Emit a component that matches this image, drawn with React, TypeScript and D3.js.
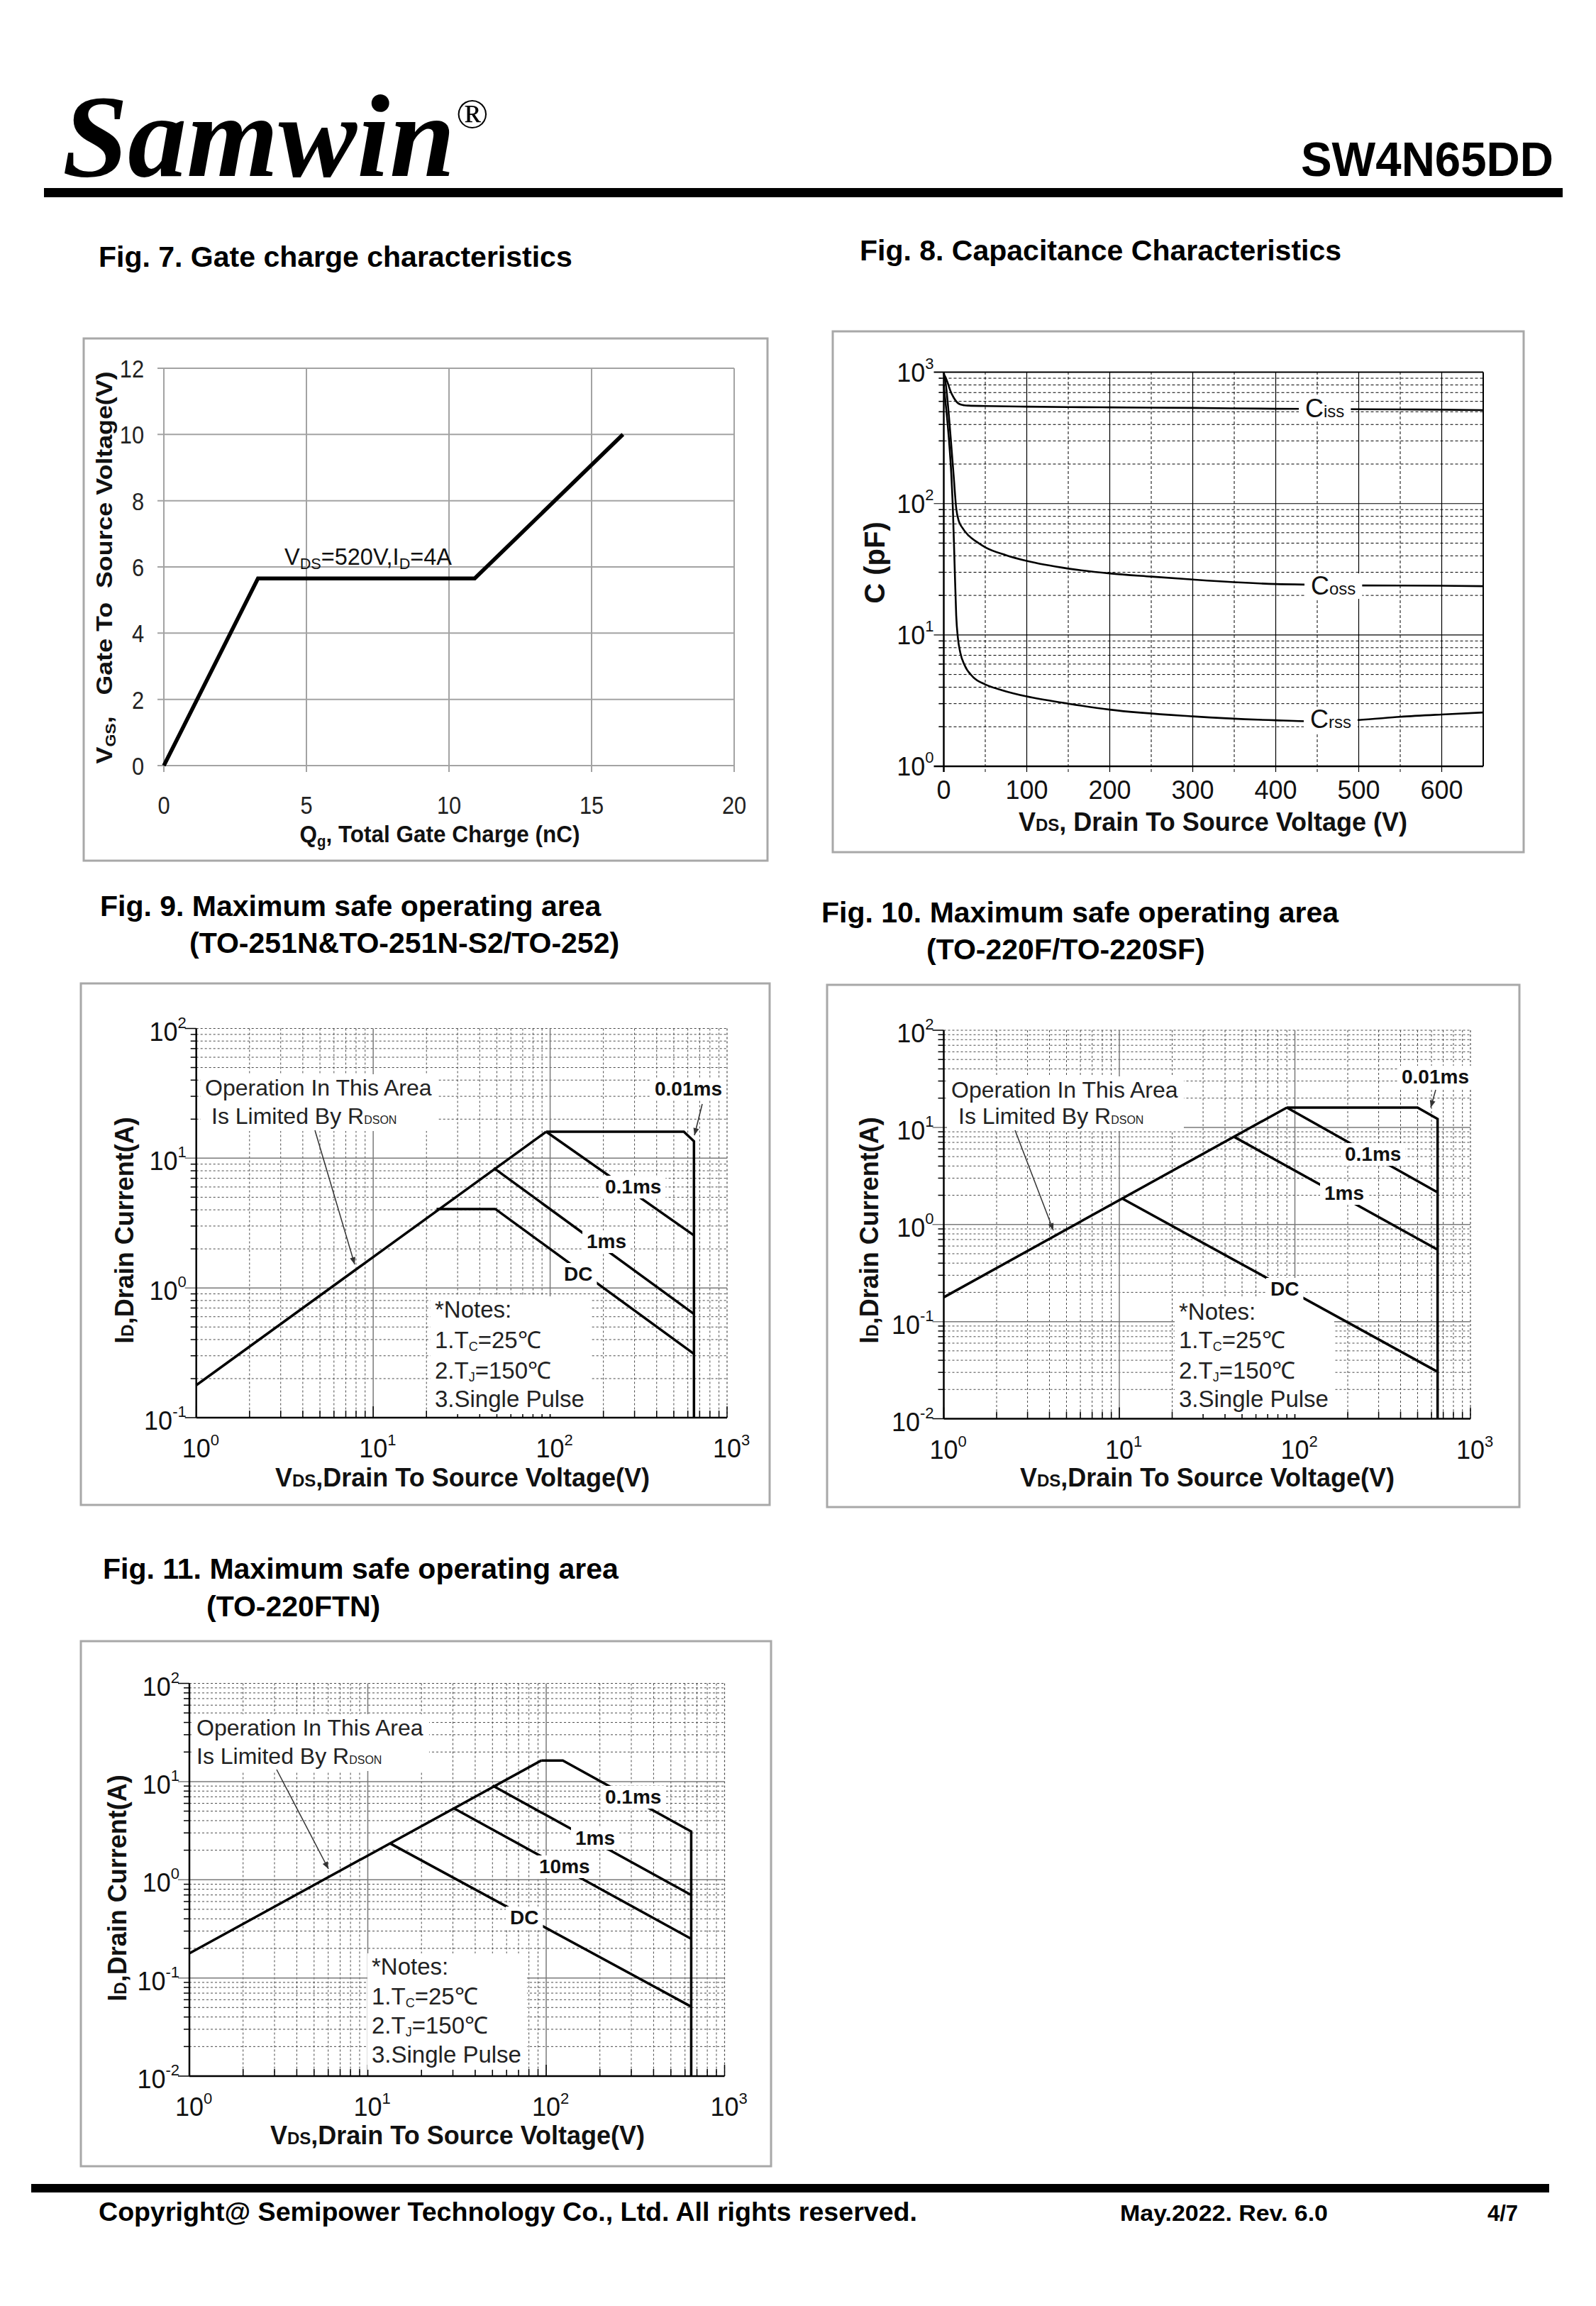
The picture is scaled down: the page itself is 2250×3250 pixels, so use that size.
import React from 'react';
import * as d3 from 'd3';

const FONT = "'Liberation Sans', Arial, Helvetica, sans-serif";
const SERIF = "'Liberation Serif', 'Times New Roman', serif";

// ================= DATA =================
// Fig. 7 gate charge
const fig7Qg = [0, 3.3, 10.9, 16.1];
const fig7Vgs = [0, 5.65, 5.65, 10];
const fig7XTicks = [0, 5, 10, 15, 20];
const fig7YTicks = [0, 2, 4, 6, 8, 10, 12];

// Fig. 8 capacitance
const fig8XTicks = [0, 100, 200, 300, 400, 500, 600];
const fig8YDecades = [1, 10, 100, 1000];
const cissV = [0, 2, 5, 8, 12, 16, 20, 25, 30, 50, 100, 150, 200, 300, 400, 450, 500, 550, 600, 650];
const cissC = [960, 920, 820, 720, 640, 590, 568, 560, 557, 553, 547, 543, 540, 535, 527, 525, 523, 521, 519, 515];
const cossV = [0, 3, 6, 9, 12, 15, 18, 22, 30, 40, 50, 75, 100, 150, 200, 250, 300, 400, 450, 500, 600, 650];
const cossC = [1000, 760, 480, 280, 160, 92, 74, 66, 57, 51, 46.5, 40.5, 36.6, 32, 29.4, 27.8, 26.4, 24.4, 24.1, 23.8, 23.7, 23.5];
const crssV = [0, 3, 6, 9, 11, 13, 15, 17, 20, 25, 35, 50, 70, 100, 150, 200, 300, 400, 450, 500, 550, 600, 650];
const crssC = [800, 520, 320, 170, 90, 35, 14, 9.5, 7.3, 5.9, 4.8, 4.2, 3.8, 3.4, 3.0, 2.7, 2.4, 2.24, 2.2, 2.25, 2.38, 2.48, 2.57];

// SOA common
const soaXDecades = [1, 10, 100, 1000];
const fig9YDecades = [0.1, 1, 10, 100];
const fig10YDecades = [0.01, 0.1, 1, 10, 100];
const fig11YDecades = [0.01, 0.1, 1, 10, 100];

// Fig. 9 (TO-251N / TO-252)
const fig9RdsonV = [1, 95];
const fig9RdsonI = [0.178, 16];
const fig9LimitV = [95, 570, 650, 650];
const fig9LimitI = [16, 16, 13.5, 0.1];
const fig9P01msV = [95, 650];
const fig9P01msI = [16, 2.54];
const fig9P1msV = [48, 650];
const fig9P1msI = [8.4, 0.63];
const fig9DcV = [22.8, 49, 650];
const fig9DcI = [4.06, 4.06, 0.31];

// Fig. 10 (TO-220F / TO-220SF)
const fig10RdsonV = [1, 90];
const fig10RdsonI = [0.178, 16];
const fig10LimitV = [90, 500, 650, 650];
const fig10LimitI = [16, 16, 12.2, 0.01];
const fig10P01msV = [90, 650];
const fig10P01msI = [16, 2.14];
const fig10P1msV = [45, 650];
const fig10P1msI = [8.0, 0.55];
const fig10DcV = [10.4, 650];
const fig10DcI = [1.85, 0.0304];

// Fig. 11 (TO-220FTN)
const fig11RdsonV = [1, 94];
const fig11RdsonI = [0.178, 16.4];
const fig11LimitV = [94, 124, 650, 650];
const fig11LimitI = [16.4, 16.4, 3.1, 0.01];
const fig11P1msV = [50, 650];
const fig11P1msI = [9.1, 0.70];
const fig11P10msV = [30.6, 650];
const fig11P10msI = [5.3, 0.25];
const fig11DcV = [13.3, 650];
const fig11DcI = [2.35, 0.051];

const notesLines = ['*Notes:', '1.T|C|=25℃', '2.T|J|=150℃', '3.Single Pulse'];

// ================= HELPERS =================
let _ctx: CanvasRenderingContext2D | null = null;
function tw(text: string, size: number, weight: string = 'normal') {
  if (!_ctx && typeof document !== 'undefined') {
    _ctx = document.createElement('canvas').getContext('2d');
  }
  if (!_ctx) return text.length * size * 0.55;
  _ctx.font = `${weight} ${size}px 'Liberation Sans', Arial, sans-serif`;
  return _ctx.measureText(text).width;
}

function zip(a: number[], b: number[]): [number, number][] {
  return a.map((v, i) => [v, b[i]] as [number, number]);
}

function expOf(d: number) {
  return String(Math.round(Math.log10(d)));
}

// ================= HEADER / FOOTER =================
function Header() {
  return (
    <g>
      <text x={88} y={248} fontFamily={SERIF} fontWeight="bold" fontStyle="italic" fontSize={166} fill="#000">Samwin</text>
      <text x={643} y={180} fontFamily={SERIF} fontSize={60} fill="#000">®</text>
      <text x={1834} y={248} fontFamily={FONT} fontWeight="bold" fontSize={68} textLength={356} lengthAdjust="spacingAndGlyphs" fill="#000">SW4N65DD</text>
      <rect x={62} y={265} width={2141} height={13} fill="#000" />
    </g>
  );
}

function Footer() {
  return (
    <g fontFamily={FONT} fontWeight="bold" fill="#000">
      <rect x={44} y={3078} width={2140} height={12} fill="#000" />
      <text x={139} y={3130} fontSize={37} textLength={1154} lengthAdjust="spacingAndGlyphs">Copyright@ Semipower Technology Co., Ltd. All rights reserved.</text>
      <text x={1579} y={3130} fontSize={31} textLength={293} lengthAdjust="spacingAndGlyphs">May.2022. Rev. 6.0</text>
      <text x={2097} y={3130} fontSize={31}>4/7</text>
    </g>
  );
}

// ================= FIG 7 =================
function Fig7() {
  const x = d3.scaleLinear().domain([0, 20]).range([231, 1035]);
  const y = d3.scaleLinear().domain([0, 12]).range([1079, 519]);
  const path = d3.line<[number, number]>().x(d => x(d[0])).y(d => y(d[1]))(zip(fig7Qg, fig7Vgs)) || '';
  const grid = '#a3a3a3';
  return (
    <g>
      <text x={139} y={376} fontFamily={FONT} fontWeight="bold" fontSize={41}>Fig. 7. Gate charge characteristics</text>
      <rect x={118} y={477} width={964} height={736} fill="#fff" stroke="#a8a8a8" strokeWidth={3} />
      {fig7YTicks.map(t => (
        <line key={'h' + t} x1={x(0) - 9} x2={x(20)} y1={y(t)} y2={y(t)} stroke={grid} strokeWidth={2} />
      ))}
      {fig7XTicks.map(t => (
        <line key={'v' + t} x1={x(t)} x2={x(t)} y1={y(0) + 9} y2={y(12)} stroke={grid} strokeWidth={2} />
      ))}
      {fig7YTicks.map(t => (
        <text key={'yl' + t} transform={`translate(${x(0) - 28},${y(t) + 13}) scale(0.88,1)`} textAnchor="end" fontFamily={FONT} fontSize={35} fill="#222">{t}</text>
      ))}
      {fig7XTicks.map(t => (
        <text key={'xl' + t} transform={`translate(${x(t)},${1147}) scale(0.88,1)`} textAnchor="middle" fontFamily={FONT} fontSize={35} fill="#222">{t}</text>
      ))}
      <path d={path} fill="none" stroke="#000" strokeWidth={5.5} strokeLinejoin="miter" />
      <text x={401} y={796} fontFamily={FONT} fontSize={33} textLength={236} lengthAdjust="spacingAndGlyphs" fill="#111">
        V<tspan fontSize={22} dy={6}>DS</tspan><tspan dy={-6}>=520V,I</tspan><tspan fontSize={22} dy={6}>D</tspan><tspan dy={-6}>=4A</tspan>
      </text>
      <text x={620} y={1187} textAnchor="middle" fontFamily={FONT} fontWeight="bold" fontSize={34} textLength={395} lengthAdjust="spacingAndGlyphs" fill="#111">
        Q<tspan fontSize={22} dy={6}>g</tspan><tspan dy={-6}>, Total Gate Charge (nC)</tspan>
      </text>
      <text transform="translate(158,800) rotate(-90)" textAnchor="middle" fontFamily={FONT} fontWeight="bold" fontSize={31} textLength={553} lengthAdjust="spacingAndGlyphs" fill="#111" style={{ whiteSpace: 'pre' }}>
        V<tspan fontSize={20} dy={5}>GS</tspan><tspan dy={-5}>,   Gate To  Source Voltage(V)</tspan>
      </text>
    </g>
  );
}

// ================= FIG 8 =================
function Fig8() {
  const x = d3.scaleLinear().domain([0, 650]).range([1330.5, 2091]);
  const y = d3.scaleLog().domain([1, 1000]).range([1080, 524.6]);
  const line = d3.line<[number, number]>().x(d => x(d[0])).y(d => y(d[1])).curve(d3.curveMonotoneX);
  const vLines = d3.range(50, 650, 50);
  const yMinor: number[] = [];
  fig8YDecades.slice(0, -1).forEach(d => { for (let m = 2; m <= 9; m++) yMinor.push(d * m); });
  const labels = [
    { main: 'C', sub: 'iss', x: 1840, y: 588 },
    { main: 'C', sub: 'oss', x: 1848, y: 838 },
    { main: 'C', sub: 'rss', x: 1847, y: 1026 },
  ];
  return (
    <g>
      <text x={1212} y={367} fontFamily={FONT} fontWeight="bold" fontSize={41}>Fig. 8. Capacitance Characteristics</text>
      <rect x={1174} y={467} width={974} height={734} fill="#fff" stroke="#a8a8a8" strokeWidth={3} />
      {yMinor.map(v => (
        <line key={'ym' + v} x1={x(0) - 7} x2={x(650)} y1={y(v)} y2={y(v)} stroke="#000" strokeWidth={1} strokeDasharray="4,3" />
      ))}
      {[10, 100].map(v => (
        <line key={'yM' + v} x1={x(0) - 14} x2={x(650)} y1={y(v)} y2={y(v)} stroke="#000" strokeWidth={1.2} />
      ))}
      {yMinor.map(v => (
        <line key={'ymt' + v} x1={x(0) - 7} x2={x(0)} y1={y(v)} y2={y(v)} stroke="#000" strokeWidth={1.5} />
      ))}
      {vLines.map(v => (
        <line key={'v' + v} x1={x(v)} x2={x(v)} y1={y(1) + 8} y2={y(1000)} stroke="#000" strokeWidth={v % 100 === 0 ? 1.2 : 1} strokeDasharray={v % 100 === 0 ? undefined : '4,3'} />
      ))}
      <line x1={x(0) - 14} x2={x(650)} y1={y(1000)} y2={y(1000)} stroke="#000" strokeWidth={2} />
      <line x1={x(650)} x2={x(650)} y1={y(1000)} y2={y(1)} stroke="#000" strokeWidth={2} />
      <line x1={x(0)} x2={x(0)} y1={y(1000)} y2={y(1) + 8} stroke="#000" strokeWidth={2.5} />
      <line x1={x(0) - 14} x2={x(650)} y1={y(1)} y2={y(1)} stroke="#000" strokeWidth={2.5} />
      {fig8YDecades.map(d => (
        <text key={'yl' + d} x={x(0) - 14} y={y(d) + 13} textAnchor="end" fontFamily={FONT} fontSize={36} fill="#111">
          10<tspan fontSize={22} dy={-18}>{expOf(d)}</tspan>
        </text>
      ))}
      {fig8XTicks.map(t => (
        <text key={'xl' + t} x={x(t)} y={1126} textAnchor="middle" fontFamily={FONT} fontSize={36} fill="#111">{t}</text>
      ))}
      <path d={line(zip(cissV, cissC)) || ''} fill="none" stroke="#000" strokeWidth={2.6} />
      <path d={line(zip(cossV, cossC)) || ''} fill="none" stroke="#000" strokeWidth={2.6} />
      <path d={line(zip(crssV, crssC)) || ''} fill="none" stroke="#000" strokeWidth={2.6} />
      {labels.map((l, i) => {
        const w = tw(l.main, 36) + tw(l.sub, 24);
        return (
          <g key={'cl' + i}>
            <rect x={l.x - 9} y={l.y - 30} width={w + 18} height={36} fill="#fff" />
            <text x={l.x} y={l.y} fontFamily={FONT} fontSize={36} fill="#111">
              {l.main}<tspan fontSize={24}>{l.sub}</tspan>
            </text>
          </g>
        );
      })}
      <text x={1710} y={1171} textAnchor="middle" fontFamily={FONT} fontWeight="bold" fontSize={36} fill="#111">
        V<tspan fontSize={24}>DS</tspan><tspan>, Drain To Source Voltage (V)</tspan>
      </text>
      <text transform="translate(1247,793) rotate(-90)" textAnchor="middle" fontFamily={FONT} fontWeight="bold" fontSize={40} fill="#111">C (pF)</text>
    </g>
  );
}

// ================= SOA CHART =================
type Curve = { v: number[]; i: number[] };
type Lbl = { text: string; x: number; y: number };
type SOAProps = {
  title1: string; title2: string;
  t1: [number, number]; t2: [number, number];
  frame: [number, number, number, number];
  plot: [number, number, number, number];
  yDecades: number[];
  curves: Curve[];
  pulseLabels: Lbl[];
  op: { x1: number; y1: number; x2: number; y2: number };
  opArrow: [number, number, number, number];
  tinyArrow?: [number, number, number, number];
  notes: { x: number; ys: number[] };
  yTitle: [number, number];
  xTitle: [number, number];
};

function SOAChart(p: SOAProps) {
  const [fx0, fy0, fx1, fy1] = p.frame;
  const [px0, py0, px1, py1] = p.plot;
  const yMin = p.yDecades[0];
  const yMax = p.yDecades[p.yDecades.length - 1];
  const xs = d3.scaleLog().domain([1, 1000]).range([px0, px1]);
  const ys = d3.scaleLog().domain([yMin, yMax]).range([py1, py0]);
  const xMinor: number[] = [];
  soaXDecades.slice(0, -1).forEach(d => { for (let m = 2; m <= 9; m++) xMinor.push(d * m); });
  const yMinor: number[] = [];
  p.yDecades.slice(0, -1).forEach(d => { for (let m = 2; m <= 9; m++) yMinor.push(d * m); });
  const line = d3.line<[number, number]>().x(d => xs(d[0])).y(d => ys(d[1]));
  const dash = '3,3';
  const minorCol = '#4a4a4a';
  const majorCol = '#7a7a7a';

  const opW1 = tw('Operation In This Area', 32);
  const opW2 = tw('Is Limited By R', 32) + tw('DSON', 16);
  const opRight = Math.max(p.op.x1 + opW1, p.op.x2 + opW2);
  const notesW = tw('3.Single Pulse', 33);

  return (
    <g>
      <text x={p.t1[0]} y={p.t1[1]} fontFamily={FONT} fontWeight="bold" fontSize={41}>{p.title1}</text>
      <text x={p.t2[0]} y={p.t2[1]} fontFamily={FONT} fontWeight="bold" fontSize={41}>{p.title2}</text>
      <rect x={fx0} y={fy0} width={fx1 - fx0} height={fy1 - fy0} fill="#fff" stroke="#a8a8a8" strokeWidth={3} />
      {xMinor.map(v => (
        <line key={'xm' + v} x1={xs(v)} x2={xs(v)} y1={py0} y2={py1} stroke={minorCol} strokeWidth={1} strokeDasharray={dash} />
      ))}
      {yMinor.map(v => (
        <line key={'ym' + v} x1={px0} x2={px1} y1={ys(v)} y2={ys(v)} stroke={minorCol} strokeWidth={1} strokeDasharray={dash} />
      ))}
      <line x1={px0} x2={px1} y1={py0} y2={py0} stroke={minorCol} strokeWidth={1.2} strokeDasharray={dash} />
      <line x1={px1} x2={px1} y1={py0} y2={py1} stroke={minorCol} strokeWidth={1.2} strokeDasharray={dash} />
      {[10, 100].map(v => (
        <line key={'xM' + v} x1={xs(v)} x2={xs(v)} y1={py0} y2={py1} stroke={majorCol} strokeWidth={1.5} />
      ))}
      {p.yDecades.slice(1, -1).map(v => (
        <line key={'yM' + v} x1={px0 - 16} x2={px1} y1={ys(v)} y2={ys(v)} stroke={majorCol} strokeWidth={1.5} />
      ))}
      {yMinor.map(v => (
        <line key={'ymt' + v} x1={px0 - 8} x2={px0} y1={ys(v)} y2={ys(v)} stroke="#000" strokeWidth={1.5} />
      ))}
      {[yMin, yMax].map(v => (
        <line key={'yMt' + v} x1={px0 - 16} x2={px0} y1={ys(v)} y2={ys(v)} stroke="#000" strokeWidth={1.5} />
      ))}
      {xMinor.map(v => (
        <line key={'xmt' + v} x1={xs(v)} x2={xs(v)} y1={py1 - 10} y2={py1} stroke="#000" strokeWidth={1.5} />
      ))}
      {soaXDecades.map(v => (
        <line key={'xMt' + v} x1={xs(v)} x2={xs(v)} y1={py1 - 16} y2={py1} stroke="#000" strokeWidth={1.5} />
      ))}
      <line x1={px0} x2={px0} y1={py0} y2={py1} stroke="#000" strokeWidth={2.5} />
      <line x1={px0} x2={px1} y1={py1} y2={py1} stroke="#000" strokeWidth={2.5} />
      {p.yDecades.map(d => (
        <text key={'yl' + d} x={px0 - 14} y={ys(d) + 17} textAnchor="end" fontFamily={FONT} fontSize={36} fill="#111">
          10<tspan fontSize={22} dy={-18}>{expOf(d)}</tspan>
        </text>
      ))}
      {soaXDecades.map(d => (
        <text key={'xl' + d} x={xs(d) - 20} y={py1 + 56} fontFamily={FONT} fontSize={36} fill="#111">
          10<tspan fontSize={22} dy={-17}>{expOf(d)}</tspan>
        </text>
      ))}
      <rect x={p.op.x1 - 6} y={p.op.y1 - 30} width={opRight - p.op.x1 + 12} height={p.op.y2 - p.op.y1 + 40} fill="#fff" />
      <rect x={p.notes.x - 6} y={p.notes.ys[0] - 30} width={notesW + 14} height={p.notes.ys[3] - p.notes.ys[0] + 40} fill="#fff" />
      {p.curves.map((c, k) => (
        <path key={'c' + k} d={line(zip(c.v, c.i)) || ''} fill="none" stroke="#000" strokeWidth={3.5} strokeLinejoin="miter" />
      ))}
      {p.pulseLabels.map((l, k) => {
        const w = tw(l.text, 28, 'bold');
        return (
          <g key={'pl' + k}>
            <rect x={l.x - 6} y={l.y - 25} width={w + 12} height={32} fill="#fff" />
            <text x={l.x} y={l.y} fontFamily={FONT} fontWeight="bold" fontSize={28} fill="#111">{l.text}</text>
          </g>
        );
      })}
      <text x={p.op.x1} y={p.op.y1} fontFamily={FONT} fontSize={32} fill="#222">Operation In This Area</text>
      <text x={p.op.x2} y={p.op.y2} fontFamily={FONT} fontSize={32} fill="#222">
        Is Limited By R<tspan fontSize={16}>DSON</tspan>
      </text>
      <line x1={p.opArrow[0]} y1={p.opArrow[1]} x2={p.opArrow[2]} y2={p.opArrow[3]} stroke="#333" strokeWidth={1.5} markerEnd="url(#ah)" />
      {p.tinyArrow && (
        <line x1={p.tinyArrow[0]} y1={p.tinyArrow[1]} x2={p.tinyArrow[2]} y2={p.tinyArrow[3]} stroke="#333" strokeWidth={1.5} markerEnd="url(#ah)" />
      )}
      {notesLines.map((n, k) => {
        const parts = n.split('|');
        return (
          <text key={'n' + k} x={p.notes.x} y={p.notes.ys[k]} fontFamily={FONT} fontSize={33} fill="#222">
            {parts[0]}
            {parts.length > 1 && <tspan fontSize={18} dy={4}>{parts[1]}</tspan>}
            {parts.length > 1 && <tspan dy={-4}>{parts[2]}</tspan>}
          </text>
        );
      })}
      <text transform={`translate(${p.yTitle[0]},${p.yTitle[1]}) rotate(-90)`} textAnchor="middle" fontFamily={FONT} fontWeight="bold" fontSize={36} fill="#111">
        I<tspan fontSize={24}>D</tspan><tspan>,Drain Current(A)</tspan>
      </text>
      <text x={p.xTitle[0]} y={p.xTitle[1]} textAnchor="middle" fontFamily={FONT} fontWeight="bold" fontSize={36} fill="#111">
        V<tspan fontSize={24}>DS</tspan><tspan>,Drain To Source Voltage(V)</tspan>
      </text>
    </g>
  );
}

export default function App() {
  return (
    <svg width={2250} height={3250} viewBox="0 0 2250 3250" style={{ position: 'absolute', left: 0, top: 0, display: 'block' }} fontFamily={FONT}>
      <defs>
        <marker id="ah" viewBox="0 0 10 10" refX={10} refY={5} markerWidth={16} markerHeight={10} markerUnits="userSpaceOnUse" orient="auto">
          <path d="M0,1 L10,5 L0,9 z" fill="#333" />
        </marker>
      </defs>
      <rect x={0} y={0} width={2250} height={3250} fill="#fff" />
      <Header />
      <Fig7 />
      <Fig8 />
      <SOAChart
        title1="Fig. 9. Maximum safe operating area" title2="(TO-251N&TO-251N-S2/TO-252)"
        t1={[141, 1291]} t2={[267, 1343]}
        frame={[114, 1386, 1085, 2121]}
        plot={[276.7, 1449.5, 1025, 1998]}
        yDecades={fig9YDecades}
        curves={[
          { v: fig9RdsonV, i: fig9RdsonI },
          { v: fig9LimitV, i: fig9LimitI },
          { v: fig9P01msV, i: fig9P01msI },
          { v: fig9P1msV, i: fig9P1msI },
          { v: fig9DcV, i: fig9DcI },
        ]}
        pulseLabels={[
          { text: '0.01ms', x: 923, y: 1544 },
          { text: '0.1ms', x: 853, y: 1682 },
          { text: '1ms', x: 827, y: 1759 },
          { text: 'DC', x: 795, y: 1805 },
        ]}
        op={{ x1: 289, y1: 1544, x2: 298, y2: 1584 }}
        opArrow={[444, 1593, 500, 1782]}
        tinyArrow={[990, 1556, 979, 1600]}
        notes={{ x: 613, ys: [1857, 1900, 1943, 1983] }}
        yTitle={[188, 1734]}
        xTitle={[652, 2095]}
      />
      <SOAChart
        title1="Fig. 10. Maximum safe operating area" title2="(TO-220F/TO-220SF)"
        t1={[1158, 1300]} t2={[1306, 1352]}
        frame={[1166, 1388, 2142, 2124]}
        plot={[1330.5, 1452, 2073, 1999.5]}
        yDecades={fig10YDecades}
        curves={[
          { v: fig10RdsonV, i: fig10RdsonI },
          { v: fig10LimitV, i: fig10LimitI },
          { v: fig10P01msV, i: fig10P01msI },
          { v: fig10P1msV, i: fig10P1msI },
          { v: fig10DcV, i: fig10DcI },
        ]}
        pulseLabels={[
          { text: '0.01ms', x: 1976, y: 1527 },
          { text: '0.1ms', x: 1896, y: 1636 },
          { text: '1ms', x: 1867, y: 1691 },
          { text: 'DC', x: 1791, y: 1826 },
        ]}
        op={{ x1: 1341, y1: 1547, x2: 1351, y2: 1584 }}
        opArrow={[1431, 1593, 1485, 1734]}
        tinyArrow={[2024, 1536, 2017, 1561]}
        notes={{ x: 1662, ys: [1860, 1900, 1943, 1983] }}
        yTitle={[1238, 1734]}
        xTitle={[1702, 2095]}
      />
      <SOAChart
        title1="Fig. 11. Maximum safe operating area" title2="(TO-220FTN)"
        t1={[145, 2225]} t2={[291, 2278]}
        frame={[114, 2313, 1087, 3053]}
        plot={[267, 2372.5, 1021.5, 2926]}
        yDecades={fig11YDecades}
        curves={[
          { v: fig11RdsonV, i: fig11RdsonI },
          { v: fig11LimitV, i: fig11LimitI },
          { v: fig11P1msV, i: fig11P1msI },
          { v: fig11P10msV, i: fig11P10msI },
          { v: fig11DcV, i: fig11DcI },
        ]}
        pulseLabels={[
          { text: '0.1ms', x: 853, y: 2542 },
          { text: '1ms', x: 811, y: 2600 },
          { text: '10ms', x: 760, y: 2640 },
          { text: 'DC', x: 719, y: 2712 },
        ]}
        op={{ x1: 277, y1: 2446, x2: 277, y2: 2486 }}
        opArrow={[390, 2494, 463, 2634]}
        notes={{ x: 524, ys: [2783, 2825, 2866, 2907] }}
        yTitle={[178, 2661]}
        xTitle={[645, 3022]}
      />
      <Footer />
    </svg>
  );
}
